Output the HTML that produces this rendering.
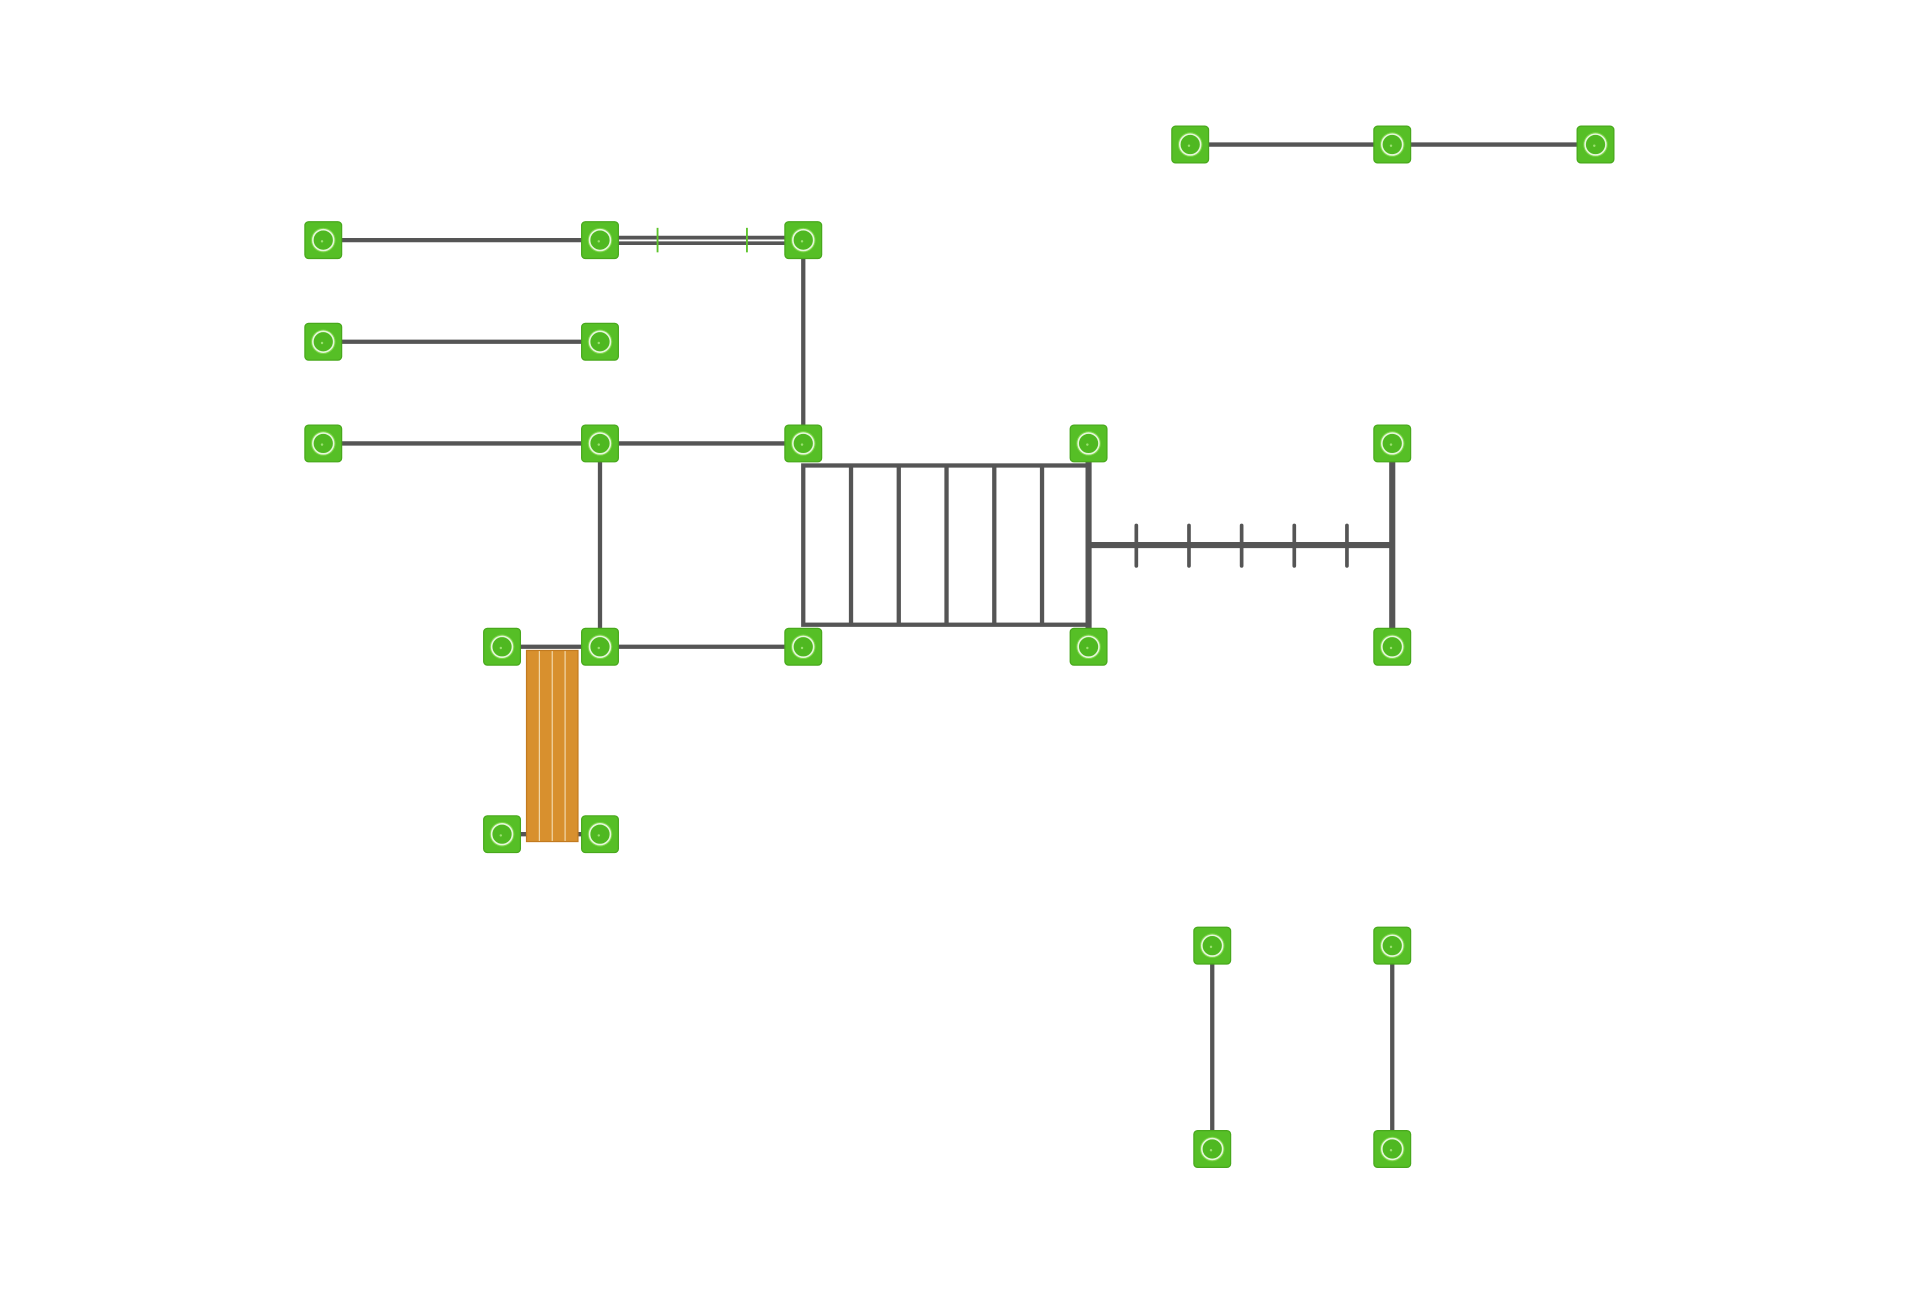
<!DOCTYPE html>
<html><head><style>html,body{margin:0;padding:0;background:#fff;width:1920px;height:1296px;overflow:hidden}svg{display:block}</style></head>
<body>
<svg width="1920" height="1296" viewBox="0 0 1568 1058" preserveAspectRatio="none" xmlns="http://www.w3.org/2000/svg">
<defs>
<g id="p">
<rect x="-15" y="-15" width="30" height="30" rx="3" fill="#56bf26"/>
<rect x="-15" y="-15" width="30" height="30" rx="3" fill="none" stroke="#48a81c" stroke-width="1"/>
<circle r="10" fill="#7ed64a"/>
<circle r="8.5" fill="#4fb821" stroke="#e6f7da" stroke-width="1.3"/>
<circle cx="-1" cy="1" r="1" fill="#9be070"/>
</g>
</defs>
<rect width="1568" height="1058" fill="#fff"/>
<g stroke="#555" stroke-width="3.5" fill="none" stroke-linecap="butt">
<line x1="972" y1="118" x2="1303" y2="118"/>
<line x1="264" y1="196" x2="490" y2="196"/>
<line x1="490" y1="194" x2="656" y2="194" stroke-width="3"/>
<line x1="490" y1="198.5" x2="656" y2="198.5" stroke-width="3"/>
<line x1="656" y1="196" x2="656" y2="362"/>
<line x1="264" y1="279" x2="490" y2="279"/>
<line x1="264" y1="362" x2="656" y2="362"/>
<line x1="490" y1="362" x2="490" y2="528"/>
<line x1="410" y1="528" x2="656" y2="528"/>
<line x1="410" y1="681" x2="490" y2="681"/>
<rect x="656" y="380" width="233" height="130"/>
<line x1="695" y1="380" x2="695" y2="510"/>
<line x1="734" y1="380" x2="734" y2="510"/>
<line x1="773" y1="380" x2="773" y2="510"/>
<line x1="812" y1="380" x2="812" y2="510"/>
<line x1="851" y1="380" x2="851" y2="510"/>
<line x1="889" y1="362" x2="889" y2="528" stroke-width="5"/>
<line x1="889" y1="445" x2="1137" y2="445" stroke-width="5"/>
<line x1="1137" y1="362" x2="1137" y2="528" stroke-width="5"/>
<g stroke-width="3" stroke-linecap="round">
<line x1="928" y1="429" x2="928" y2="462"/>
<line x1="971" y1="429" x2="971" y2="462"/>
<line x1="1014" y1="429" x2="1014" y2="462"/>
<line x1="1057" y1="429" x2="1057" y2="462"/>
<line x1="1100" y1="429" x2="1100" y2="462"/>
</g>
<line x1="990" y1="772" x2="990" y2="938"/>
<line x1="1137" y1="772" x2="1137" y2="938"/>
</g>
<g stroke="#5cc42a" stroke-width="1.5">
<line x1="537" y1="186" x2="537" y2="206"/>
<line x1="610" y1="186" x2="610" y2="206"/>
</g>
<g>
<rect x="430" y="531" width="42" height="156" fill="#d8902e"/>
<g stroke="#f1d7a8" stroke-width="1">
<line x1="440.5" y1="531" x2="440.5" y2="687"/>
<line x1="451" y1="531" x2="451" y2="687"/>
<line x1="461.5" y1="531" x2="461.5" y2="687"/>
</g>
<rect x="430" y="531" width="42" height="156" fill="none" stroke="#c27a1f" stroke-width="1"/>
</g>
<use href="#p" x="972" y="118"/><use href="#p" x="1137" y="118"/><use href="#p" x="1303" y="118"/>
<use href="#p" x="264" y="196"/><use href="#p" x="490" y="196"/><use href="#p" x="656" y="196"/>
<use href="#p" x="264" y="279"/><use href="#p" x="490" y="279"/>
<use href="#p" x="264" y="362"/><use href="#p" x="490" y="362"/><use href="#p" x="656" y="362"/><use href="#p" x="889" y="362"/><use href="#p" x="1137" y="362"/>
<use href="#p" x="410" y="528"/><use href="#p" x="490" y="528"/><use href="#p" x="656" y="528"/><use href="#p" x="889" y="528"/><use href="#p" x="1137" y="528"/>
<use href="#p" x="410" y="681"/><use href="#p" x="490" y="681"/>
<use href="#p" x="990" y="772"/><use href="#p" x="1137" y="772"/>
<use href="#p" x="990" y="938"/><use href="#p" x="1137" y="938"/>
</svg>
</body></html>
